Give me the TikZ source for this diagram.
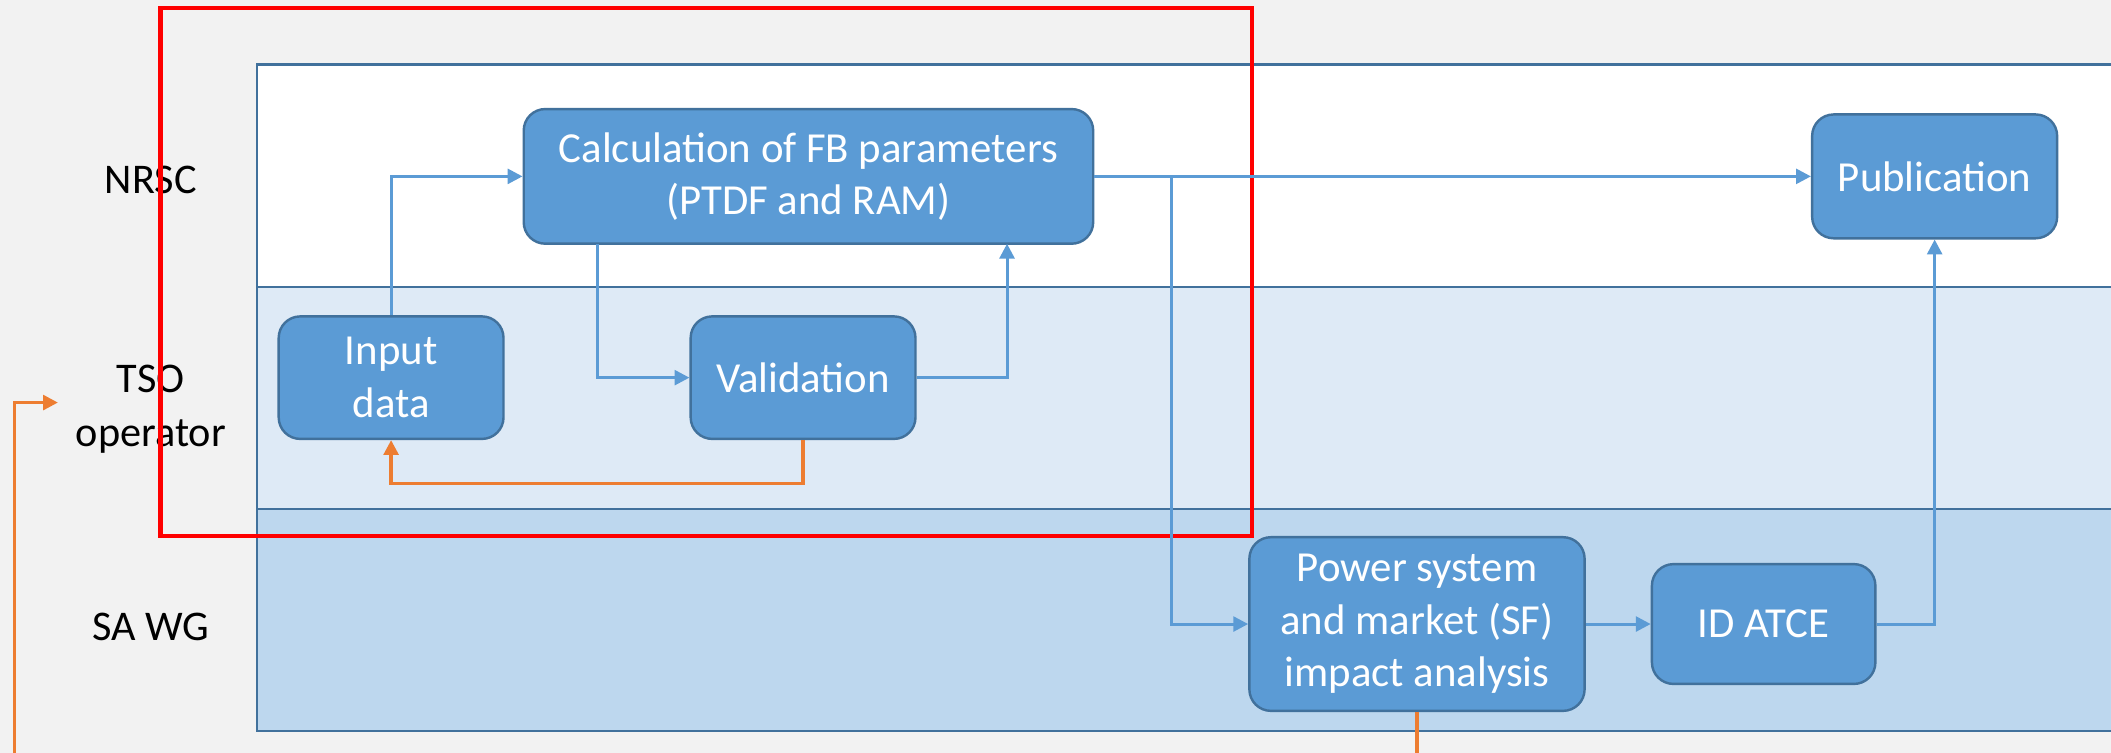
\documentclass[tikz,border=0pt]{standalone}
\usepackage{fontspec}
\setmainfont{Carlito}
\usetikzlibrary{arrows.meta,calc}
\definecolor{bgcol}{HTML}{F2F2F2}
\definecolor{boxfill}{HTML}{5B9BD5}
\definecolor{boxdraw}{HTML}{41719C}
\definecolor{lanedraw}{HTML}{41719C}
\definecolor{tsofill}{HTML}{DEEAF6}
\definecolor{safill}{HTML}{BDD7EE}
\definecolor{conncol}{HTML}{5B9BD5}
\definecolor{orng}{HTML}{ED7D31}
\begin{document}
\begin{tikzpicture}[x=0.5pt,y=-0.5pt,
  box/.style={draw=boxdraw, fill=boxfill, line width=0.9pt, rounded corners=8pt,
    text=white, align=center, font=\fontsize{15.9}{19.5}\selectfont, inner sep=0pt},
  lab/.style={align=center, text=black, font=\fontsize{15.7}{20}\selectfont, inner sep=0pt},
  flow/.style={draw=conncol, line width=1.1pt, -{Triangle[length=5.5pt,width=5.5pt]}},
  fback/.style={draw=orng, line width=1.2pt, -{Triangle[length=5.5pt,width=5.5pt]}},
  lane/.style={draw=lanedraw, line width=0.9pt}]
\useasboundingbox (0,0) rectangle (1568,559);
\clip (0,0) rectangle (1568,559);
\fill[bgcol] (0,0) rectangle (1568,559);
% lanes
\filldraw[lane, fill=white] (191,48) rectangle (1590,213);
\filldraw[lane, fill=tsofill] (191,213) rectangle (1590,378);
\filldraw[lane, fill=safill] (191,378) rectangle (1590,543);
% lane labels
\node[lab] (lnrsc) at (112,134) {NRSC};
\node[lab] (ltso) at (112,304) {TSO\\operator};
\node[lab] (lsa) at (112,466) {SA WG};
% boxes
\node[box, minimum width=83.5pt, minimum height=45.5pt] (in) at (290.5,280.5) {Input\\data};
\node[box, minimum width=211.5pt, minimum height=50pt] (calc) at (600.5,131) {Calculation of FB parameters\\(PTDF and RAM)};
\node[box, minimum width=83.5pt, minimum height=45.5pt] (val) at (596.5,280.5) {Validation};
\node[box, minimum width=91pt, minimum height=46pt] (pub) at (1437,131) {Publication};
\node[box, minimum width=124.5pt, minimum height=64.5pt] (pw) at (1052.5,463.5) {Power system\\and market (SF)\\impact analysis};
\node[box, minimum width=83pt, minimum height=44.5pt] (atce) at (1310,463.5) {ID ATCE};
% red frame
\draw[red, line width=1.7pt] (119,6) rectangle (930,398);
% connectors
\coordinate (b1) at (444,181);
\coordinate (b2) at (748,181);
\coordinate (j) at (870,131);
\coordinate (fb) at (43,299);
\draw[flow] (in.north) |- (calc.west);
\draw[flow] (b1) |- (val.west);
\draw[flow] (val.east) -| (b2);
\draw[fback] (val.south) -- ++(0,32) -| (in.south);
\draw[flow] (calc.east) -- (pub.west);
\draw[flow] (j) |- (pw.west);
\draw[flow] (pw.east) -- (atce.west);
\draw[flow] (atce.east) -| (pub.south);
\draw[fback] (pw.south) -- ++(0,80) -| (11,560) -- (11,299) -- (fb);
\end{tikzpicture}
\end{document}
